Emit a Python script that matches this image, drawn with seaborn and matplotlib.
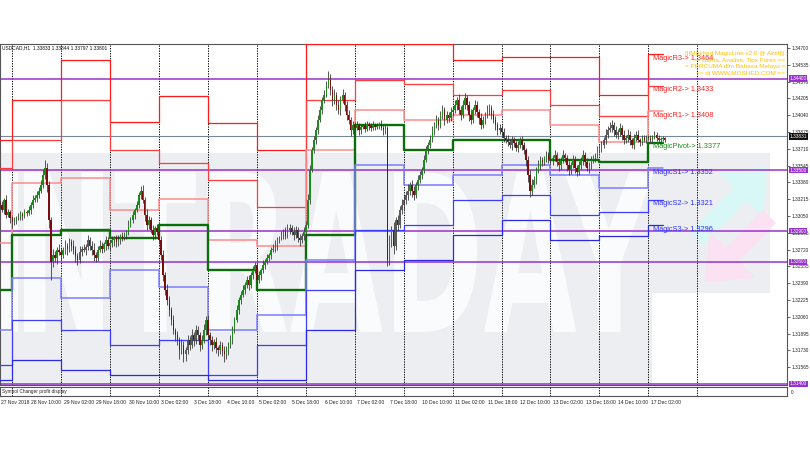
import matplotlib
matplotlib.use("Agg")
import matplotlib.pyplot as plt
import matplotlib.transforms as mtransforms
import seaborn as sns
import pandas as pd
import numpy as np
from matplotlib.patches import Polygon, PathPatch, Rectangle
from matplotlib.textpath import TextPath
from matplotlib.font_manager import FontProperties

# ---------------- data ----------------
header = "USDCAD,H1  1.33833 1.33844 1.33797 1.33801"
first_bar = -6          # bar index of first candle (hours since 28 Nov 00:00, weekends skipped)
first_open = 1.3318
closes = [
    1.3316,1.3311,1.3321,1.3306,1.3309,1.3303,
    1.3299,1.3301,1.3303,1.3304,1.3307,1.3305,1.3309,1.3308,1.3311,1.3316,1.3321,1.3323,1.3326,1.3330,1.3335,1.3345,1.3352,1.3335,1.3301,1.3260,1.3267,1.3264,1.3272,1.3270,
    1.3267,1.3272,1.3276,1.3273,1.3279,1.3276,1.3272,1.3266,1.3262,1.3270,1.3273,1.3272,1.3275,1.3281,1.3276,1.3272,1.3267,1.3264,1.3272,1.3276,1.3273,1.3277,1.3281,1.3276,
    1.3278,1.3281,1.3283,1.3279,1.3281,1.3285,1.3283,1.3286,1.3289,1.3296,1.3301,1.3306,1.3311,1.3316,1.3326,1.3330,1.3321,1.3306,1.3296,1.3301,1.3291,1.3286,1.3293,1.3289,
    1.3281,1.3267,1.3247,1.3232,1.3222,1.3213,1.3203,1.3193,1.3188,1.3183,1.3173,1.3178,1.3169,1.3173,1.3183,1.3178,1.3188,1.3183,1.3193,1.3188,1.3178,1.3183,1.3193,1.3203,
    1.3188,1.3183,1.3178,1.3181,1.3175,1.3173,1.3178,1.3172,1.3169,1.3173,1.3178,1.3183,1.3193,1.3203,1.3213,1.3222,1.3227,1.3232,1.3237,1.3242,1.3237,1.3247,1.3252,1.3257,
    1.3242,1.3247,1.3252,1.3257,1.3260,1.3264,1.3267,1.3272,1.3273,1.3276,1.3281,1.3283,1.3286,1.3289,1.3285,1.3291,1.3293,1.3289,1.3286,1.3291,1.3283,1.3281,1.3285,1.3289,
    1.3296,1.3321,1.3350,1.3370,1.3380,1.3389,1.3399,1.3409,1.3419,1.3424,1.3434,1.3439,1.3429,1.3419,1.3424,1.3414,1.3409,1.3419,1.3424,1.3414,1.3404,1.3399,1.3389,1.3394,
    1.3391,1.3394,1.3389,1.3392,1.3393,1.3390,1.3395,1.3393,1.3391,1.3394,1.3392,1.3393,1.3395,1.3391,1.3389,1.3391,1.3262,1.3281,1.3291,1.3276,1.3301,1.3296,1.3311,1.3316,
    1.3321,1.3326,1.3330,1.3335,1.3330,1.3326,1.3335,1.3340,1.3345,1.3350,1.3360,1.3370,1.3375,1.3380,1.3389,1.3394,1.3399,1.3394,1.3404,1.3409,1.3399,1.3404,1.3401,1.3407,
    1.3409,1.3414,1.3419,1.3409,1.3404,1.3414,1.3421,1.3414,1.3404,1.3399,1.3409,1.3414,1.3407,1.3401,1.3394,1.3399,1.3404,1.3409,1.3411,1.3404,1.3399,1.3394,1.3389,1.3391,
    1.3387,1.3382,1.3380,1.3378,1.3375,1.3380,1.3377,1.3372,1.3375,1.3380,1.3375,1.3370,1.3360,1.3345,1.3330,1.3335,1.3340,1.3350,1.3355,1.3360,1.3358,1.3362,1.3365,1.3360,
    1.3360,1.3362,1.3365,1.3358,1.3355,1.3360,1.3365,1.3362,1.3355,1.3350,1.3355,1.3360,1.3352,1.3348,1.3355,1.3360,1.3365,1.3358,1.3352,1.3355,1.3360,1.3362,1.3365,1.3370,
    1.3372,1.3375,1.3380,1.3385,1.3389,1.3391,1.3394,1.3389,1.3385,1.3387,1.3391,1.3385,1.3380,1.3382,1.3385,1.3380,1.3375,1.3382,1.3385,1.3380,1.3378,1.3382,1.3380,1.3383,
    1.3382,1.3380,1.3383,1.3385,1.3382,1.3380,1.3381,1.3382,1.33801,
]
# upper / lower wick length of each candle, in pips (0.0001)
wick_up = [
    3,4,2,5,3,2,
    2,3,2,4,3,2,3,2,4,3,5,3,4,3,5,6,8,5,4,3,6,4,3,5,
    4,3,5,2,4,3,5,4,3,6,3,4,2,5,3,4,6,3,4,5,3,2,4,3,
    3,4,2,3,5,2,4,3,2,5,3,4,2,4,3,4,5,3,6,4,3,5,2,4,
    3,4,5,3,6,4,3,5,2,4,3,6,4,3,5,4,6,3,5,4,3,5,6,4,
    5,3,4,3,5,2,4,3,5,4,3,5,4,3,5,3,4,5,3,4,5,3,4,3,
    3,4,2,5,3,4,2,3,4,5,3,2,4,3,5,6,4,3,5,4,3,4,3,5,
    4,6,5,3,4,3,5,4,3,5,4,8,5,4,6,3,5,4,6,3,4,5,3,4,
    3,4,2,3,2,4,3,2,3,4,2,3,2,4,3,3,2,5,4,8,3,5,4,6,
    5,4,6,3,5,4,3,5,4,3,5,4,3,5,4,3,5,3,4,5,3,4,3,5,
    4,5,3,6,4,5,5,3,4,6,3,5,4,3,5,4,3,5,4,3,5,4,3,4,
    3,4,3,5,3,4,3,2,4,3,4,3,2,4,5,6,4,3,5,4,3,2,4,3,
    4,3,5,3,4,3,5,2,3,4,3,5,4,3,4,3,5,3,4,3,4,3,2,4,
    3,4,3,5,4,6,5,3,4,3,5,3,4,3,5,3,2,4,3,4,2,3,3,2,
    2,3,2,3,2,3,2,2,1,
]
wick_dn = [
    3,2,4,3,2,5,
    6,3,4,2,3,4,2,3,2,4,3,2,4,3,2,3,4,6,8,18,5,4,6,3,
    5,3,4,6,3,5,4,6,5,3,4,2,5,3,4,5,6,4,3,2,4,3,5,3,
    4,3,5,4,3,4,3,2,4,3,2,3,4,2,3,4,3,6,5,4,3,5,4,3,
    4,5,6,5,4,6,5,4,6,5,8,4,7,6,4,5,3,6,4,5,6,4,3,5,
    4,5,6,4,5,6,4,5,7,4,5,3,4,3,2,4,3,2,4,3,5,3,4,3,
    4,3,5,3,4,2,3,4,2,3,4,3,2,4,3,2,4,3,5,3,4,5,3,4,
    5,3,4,2,3,4,3,2,4,3,2,3,5,6,4,5,4,5,3,6,5,4,5,3,
    3,2,4,3,2,3,2,4,3,2,3,2,3,2,4,3,6,5,6,8,4,5,3,4,
    6,4,5,4,6,5,3,4,3,4,3,2,4,3,2,4,3,5,3,4,5,3,4,3,
    4,3,5,4,5,3,4,5,6,4,3,4,5,6,4,3,4,3,5,4,3,5,4,3,
    3,4,3,4,3,5,4,3,4,3,5,4,6,7,6,4,3,4,3,5,4,3,4,3,
    4,5,3,4,6,5,3,4,6,5,4,3,5,4,3,4,5,4,3,5,4,3,4,3,
    3,4,3,4,3,2,4,5,3,4,3,5,4,3,4,5,3,4,3,2,4,3,2,3,
    2,3,2,2,3,2,3,2,2,
]

day_start = [-6, 0, 24, 48, 72, 96, 120, 144, 168, 192, 216, 240, 264, 288, 312]
day_end   = [0, 24, 48, 72, 96, 120, 144, 168, 192, 216, 240, 264, 288, 312, 319]
R3 = [1.3380,1.3419,1.3458,1.3397,1.3423,1.3396,1.3370,1.3474,1.3474,1.3474,1.3458,1.3461,1.3461,1.3424,1.3464]
R2 = [1.3352,1.3380,1.3419,1.3370,1.3357,1.3340,1.3314,1.3419,1.3439,1.3435,1.3424,1.3429,1.3414,1.3403,1.3433]
R1 = [1.3278,1.3337,1.3342,1.3311,1.3322,1.3281,1.3276,1.3370,1.3409,1.3399,1.3404,1.3409,1.3394,1.3378,1.3408]
PP = [1.3232,1.3286,1.3291,1.3283,1.3296,1.3252,1.3232,1.3286,1.3394,1.3370,1.3380,1.3380,1.3360,1.3358,1.3377]
S1 = [1.3193,1.3244,1.3224,1.3252,1.3235,1.3193,1.3208,1.3262,1.3355,1.3335,1.3345,1.3355,1.3345,1.3332,1.3352]
S2 = [1.3159,1.3203,1.3193,1.3178,1.3183,1.3149,1.3178,1.3232,1.3291,1.3296,1.3321,1.3326,1.3306,1.3309,1.3321]
S3 = [1.3144,1.3164,1.3154,1.3149,1.3149,1.3144,1.3144,1.3193,1.3252,1.3262,1.3286,1.3301,1.3281,1.3285,1.3296]

round_levels = [1.34400, 1.33500, 1.32900, 1.32600, 1.31400]
current_price = 1.33831
y_ticks = [1.34700,1.34535,1.34370,1.34205,1.34040,1.33875,1.33710,1.33545,1.33380,1.33215,
           1.33050,1.32885,1.32720,1.32555,1.32390,1.32225,1.32060,1.31895,1.31730,1.31565]
x_tick_bars = [-6,10,26,42,58,74,90,106,122,138,154,170,186,202,218,234,250,266,282,298,314]
x_tick_labels = ["27 Nov 2018","28 Nov 10:00","29 Nov 02:00","29 Nov 18:00","30 Nov 10:00",
                 "3 Dec 02:00","3 Dec 18:00","4 Dec 10:00","5 Dec 02:00","5 Dec 18:00",
                 "6 Dec 10:00","7 Dec 02:00","7 Dec 18:00","10 Dec 10:00","11 Dec 02:00",
                 "11 Dec 18:00","12 Dec 10:00","13 Dec 02:00","13 Dec 18:00","14 Dec 10:00",
                 "17 Dec 02:00"]
separator_bars = list(range(0, 337, 24))
banner = ["|||Moshed MagicLine v2.0 @ Aktif|||", "== Berita, Analisa, Tips Forex ==",
          "= PERCUMA dlm Bahasa Melayu =", "=> di WWW.MOSHED.COM <="]
level_texts = ["MagicR3-> 1.3464", "MagicR2-> 1.3433", "MagicR1-> 1.3408", "MagicPivot-> 1.3377",
               "MagicS1-> 1.3352", "MagicS2-> 1.3321", "MagicS3-> 1.3296"]

# ---------------- styling ----------------
sns.set_theme(style="white")
plt.rcParams['font.family'] = ['Liberation Sans', 'DejaVu Sans']

W, H = 810, 450
fig = plt.figure(figsize=(8.1, 4.5), dpi=100)
fig.patch.set_facecolor("white")

def fr(x0, y0, x1, y1):
    return [x0 / W, 1 - y1 / H, (x1 - x0) / W, (y1 - y0) / H]

# background watermark layer, pixel coordinates
bg = fig.add_axes([0, 0, 1, 1], zorder=0)
bg.set_xlim(0, W); bg.set_ylim(H, 0); bg.axis("off")
bg.add_patch(Polygon([(0, 153), (770, 153), (770, 293), (652, 293), (652, 385), (0, 385)],
                     closed=True, color="#eceef1", lw=0))
bg.add_patch(Rectangle((0, 172), 18, 160, color="#fafbfc", lw=0))   # clipped "I"
tp = TextPath((0, 0), "NTRADAY", prop=FontProperties(family="DejaVu Sans", weight="bold"), size=1)
ext = tp.get_extents()
trf = mtransforms.Affine2D().translate(-ext.x0, -ext.y0).scale(630 / ext.width, -160 / ext.height).translate(24, 332)
bg.add_patch(PathPatch(trf.transform_path(tp), fc="#fafbfc", ec="none"))
bg.add_patch(Polygon([(767, 167), (718, 172), (734, 188), (690, 232), (703, 245), (747, 201), (763, 217)],
                     closed=True, color="#d8f7f7", lw=0))
bg.add_patch(Polygon([(705, 282), (710, 232), (726, 248), (763, 210), (776, 223), (739, 261), (755, 278)],
                     closed=True, color="#fbe1f1", lw=0))

ax = fig.add_axes(fr(0, 44, 787, 385), zorder=2)
sub = fig.add_axes(fr(0, 386.5, 787, 395.5), zorder=2, sharex=ax)
ax.set_facecolor("none")
sub.set_facecolor("white")

ax.set_xlim(-5.9, 380.0)
ax.set_ylim(1.31390, 1.34739)

# day separators
for b in separator_bars:
    ax.axvline(b, color="#000000", lw=0.7, ls=(0, (1.3, 1.3)), zorder=1)
    sub.axvline(b, color="#000000", lw=0.7, ls=(0, (1.3, 1.3)), zorder=1)

# round-number levels and current price line
for lv in round_levels:
    ax.axhline(lv, color="#9932cc", lw=1.1, zorder=2)
ax.axhline(current_price, color="#778899", lw=0.8, zorder=2)

# pivot step lines via seaborn
names = ["R3", "R2", "R1", "PP", "S1", "S2", "S3"]
levels = [R3, R2, R1, PP, S1, S2, S3]
rows = []
for nm, vals in zip(names, levels):
    for i, v in enumerate(vals):
        rows.append((nm, day_start[i], v, 2 * i))
        rows.append((nm, day_end[i], v, 2 * i + 1))
piv = pd.DataFrame(rows, columns=["level", "bar", "price", "order"])
palette = {"R3": "#ff1a1a", "R2": "#ff3c3c", "R1": "#ff8c8c", "PP": "#0b6e0b",
           "S1": "#7d7dff", "S2": "#3c3cff", "S3": "#2a2ae6"}
sizes = {"R3": 0.9, "R2": 0.9, "R1": 1.1, "PP": 1.7, "S1": 1.1, "S2": 0.9, "S3": 0.9}
sns.lineplot(data=piv, x="bar", y="price", hue="level", size="level", palette=palette,
             sizes=sizes, estimator=None, sort=False, units="level", legend=False, ax=ax, zorder=3)

# candles
n = min(len(closes), len(wick_up), len(wick_dn))
cl = np.array(closes[:n])
bars = np.arange(first_bar, first_bar + n)
opens = np.array([first_open] + closes[:n - 1])
hi = np.maximum(opens, cl) + np.array(wick_up[:n]) * 1e-4
lo = np.minimum(opens, cl) - np.array(wick_dn[:n]) * 1e-4
ax.vlines(bars, lo, hi, color="#3a3a3a", lw=0.6, zorder=4)
up = cl >= opens
ax.bar(bars[up], (cl - opens)[up], bottom=opens[up], width=0.7, color="#1c8c1c", lw=0, zorder=5)
ax.bar(bars[~up], (opens - cl)[~up], bottom=cl[~up], width=0.7, color="#7a0e0e", lw=0, zorder=5)

# axes styling
for a in (ax, sub):
    for s in a.spines.values():
        s.set_color("#555555"); s.set_linewidth(0.8)
ax.set_xlabel(""); ax.set_ylabel("")
ax.yaxis.tick_right()
ax.set_yticks(y_ticks)
ax.set_yticklabels([f"{t:.5f}" for t in y_ticks], fontsize=3.4, color="#222222")
ax.tick_params(axis="y", length=2, width=0.5, pad=1.5, colors="#222222")
ax.tick_params(axis="x", bottom=False, labelbottom=False)
sub.set_xlabel(""); sub.set_ylabel("")
sub.set_ylim(0, 1)
sub.yaxis.tick_right()
sub.set_yticks([0.35]); sub.set_yticklabels(["0"], fontsize=3.4)
sub.tick_params(axis="y", length=0, pad=3)
sub.set_xticks(x_tick_bars)
sub.set_xticklabels([])
sub.tick_params(axis="x", length=2, width=0.5, direction="out")
blend = mtransforms.blended_transform_factory(sub.transData, sub.transAxes)
for b, t in zip(x_tick_bars, x_tick_labels):
    sub.text(max(b - 0.8, -5.5), -0.45, t, fontsize=3.6, ha="left", va="top", color="#222222", transform=blend)
sub.text(0.003, 0.5, "Symbol Changer profit display", transform=sub.transAxes, fontsize=3.4,
         va="center", ha="left", color="#222222")

# right-axis price boxes
def price_box(y, text, fc):
    ax.annotate(text, xy=(1.0, y), xycoords=("axes fraction", "data"), xytext=(2, 0),
                textcoords="offset points", fontsize=3.4, color="white", va="center", ha="left",
                bbox=dict(boxstyle="square,pad=0.15", fc=fc, ec=fc, lw=0), annotation_clip=False, zorder=10)
for lv in round_levels:
    price_box(lv, f"{lv:.5f}", "#9932cc")
price_box(current_price, f"{current_price:.5f}", "#111111")

# header and banner
fig.text(2 / W, 1 - 48 / H, header, fontsize=3.5, ha="left", va="center", color="#111111")
for i, line in enumerate(banner):
    fig.text(785 / W, 1 - (54 + 6.4 * i) / H, line, fontsize=4.6, ha="right", va="center", color="#ffc000")

# level labels
lab_x = 314.3
lab_colors = ["#ff2020", "#ff2020", "#ff2020", "#1a8a1a", "#3030ff", "#3030ff", "#3030ff"]
for t, vals, c in zip(level_texts, levels, lab_colors):
    ax.annotate(t, xy=(lab_x, vals[-1]), xytext=(0, -3.0), textcoords="offset points",
                fontsize=5.3, color=c, ha="left", va="center", zorder=9)

fig.savefig("out.png", dpi=100, facecolor="white")
